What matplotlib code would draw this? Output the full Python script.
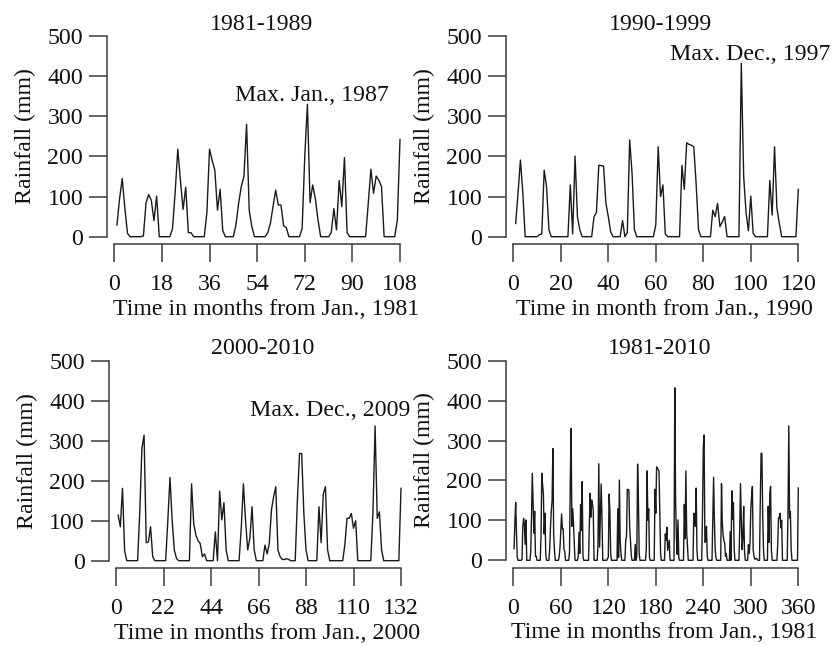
import numpy as np
import matplotlib
matplotlib.use("Agg")
import matplotlib.pyplot as plt

plt.rcParams['font.family'] = ['Liberation Serif', 'DejaVu Serif']

# -- monthly rainfall (mm) --------------------------------------------
rain_1981_1989 = [
    29, 95, 145, 70, 8, 0, 0, 0, 0, 0, 2, 85,
    105, 90, 40, 101, 0, 0, 0, 0, 0, 20, 110, 218,
    140, 68, 123, 10, 10, 0, 0, 0, 0, 0, 60, 218,
    190, 166, 66, 118, 15, 0, 0, 0, 0, 30, 83, 125,
    150, 280, 66, 25, 0, 0, 0, 0, 0, 10, 33, 75,
    116, 79, 79, 27, 23, 0, 0, 0, 0, 0, 20, 200,
    330, 85, 129, 95, 42, 0, 0, 0, 0, 10, 70, 17,
    140, 75, 197, 10, 0, 0, 0, 0, 0, 0, 0, 83,
    168, 108, 151, 141, 125, 0, 0, 0, 0, 0, 42, 242,
]
rain_1990_1999 = [
    33, 110, 191, 110, 0, 0, 0, 0, 0, 0, 5, 7,
    166, 125, 17, 0, 0, 0, 0, 0, 0, 0, 0, 129,
    7, 201, 50, 17, 0, 0, 0, 0, 0, 50, 60, 178,
    177, 176, 83, 50, 12, 0, 0, 0, 0, 40, 0, 10,
    241, 158, 17, 0, 0, 0, 0, 0, 0, 0, 0, 30,
    224, 100, 129, 7, 0, 0, 0, 0, 0, 0, 178, 118,
    234, 230, 228, 224, 130, 17, 0, 0, 0, 0, 0, 66,
    50, 83, 25, 37, 50, 0, 0, 0, 0, 0, 0, 432,
    150, 60, 15, 101, 8, 0, 0, 0, 0, 0, 0, 140,
    54, 224, 71, 33, 0, 0, 0, 0, 0, 0, 0, 118,
]
rain_2000_2010 = [
    114, 85, 181, 25, 0, 0, 0, 0, 0, 0, 120, 281,
    314, 45, 47, 85, 10, 0, 0, 0, 0, 0, 0, 100,
    208, 102, 27, 6, 0, 0, 0, 0, 0, 0, 192, 93,
    64, 50, 43, 10, 17, 0, 0, 0, 0, 72, 0, 174,
    102, 145, 27, 0, 0, 0, 0, 0, 0, 80, 192, 100,
    27, 56, 135, 27, 0, 0, 0, 0, 39, 17, 43, 127,
    160, 185, 27, 10, 3, 3, 5, 3, 0, 0, 0, 150,
    268, 268, 118, 27, 0, 0, 0, 0, 0, 135, 45, 167,
    185, 27, 0, 0, 0, 0, 0, 0, 0, 40, 106, 106,
    118, 81, 100, 0, 0, 0, 0, 0, 0, 0, 120, 337,
    106, 122, 27, 0, 0, 0, 0, 0, 0, 0, 0, 181,
]
rain_1981_2010 = rain_1981_1989 + rain_1990_1999 + rain_2000_2010

titles   = ['1981-1989', '1990-1999', '2000-2010', '1981-2010']
xlabels  = ['Time in months from Jan., 1981', 'Time in month from Jan., 1990',
            'Time in months from Jan., 2000', 'Time in months from Jan., 1981']
xsteps   = [18, 20, 22, 60]
notes    = ['Max. Jan., 1987', 'Max. Dec., 1997', 'Max. Dec., 2009', None]
note_pos = [(45.6, 351), (66, 453), (62, 375), None]
series   = [rain_1981_1989, rain_1990_1999, rain_2000_2010, rain_1981_2010]
yticks   = [0, 100, 200, 300, 400, 500]

# -- axes placement (pixels -> figure fractions) ----------------------
W, H = 832, 646
boxes = [
    (114.3, 400.0, 36.0, 236.7),
    (513.3, 798.3, 36.0, 236.7),
    (116.0, 401.0, 360.7, 560.7),
    (513.3, 798.3, 360.7, 560.3),
]

fig = plt.figure(figsize=(W / 100, H / 100), dpi=100)
FS = 17.2
ink = '#111111'
spine_c = '#3a3a3a'

for i, vals in enumerate(series):
    x0, x1, ytop, ybot = boxes[i]
    ax = fig.add_axes((x0 / W, 1 - ybot / H, (x1 - x0) / W, (ybot - ytop) / H))
    n = len(vals)
    months = np.arange(1, n + 1)
    ax.plot(months, vals, color='#1a1a1a', lw=1.0, clip_on=False)

    ax.set_xlim(0, n)
    ax.set_ylim(0, 500)
    ax.set_xticks(np.arange(0, n + 1, xsteps[i]))
    ax.set_yticks(yticks)

    for s in ('top', 'right'):
        ax.spines[s].set_visible(False)
    for s in ('left', 'bottom'):
        ax.spines[s].set_position(('outward', 5.4))
        ax.spines[s].set_linewidth(1.1)
        ax.spines[s].set_color(spine_c)
    ax.tick_params(axis='both', direction='out', length=13, width=1.1,
                   color=spine_c, labelsize=FS, labelcolor=ink)
    ax.tick_params(axis='x', pad=8.5)
    ax.tick_params(axis='y', pad=4)

    ax.set_title(titles[i], fontsize=FS, color=ink, pad=4.5)
    ax.title.set_x(0.515)
    ax.set_xlabel(xlabels[i], fontsize=FS, color=ink, labelpad=2.5, x=0.53)
    ax.set_ylabel('Rainfall (mm)', fontsize=FS, color=ink)
    ax.yaxis.set_label_coords(-0.275, 0.5)

    if notes[i] is not None:
        ax.text(note_pos[i][0], note_pos[i][1], notes[i], fontsize=FS,
                color=ink, ha='left', va='center')

fig.savefig('out.png', dpi=100)
